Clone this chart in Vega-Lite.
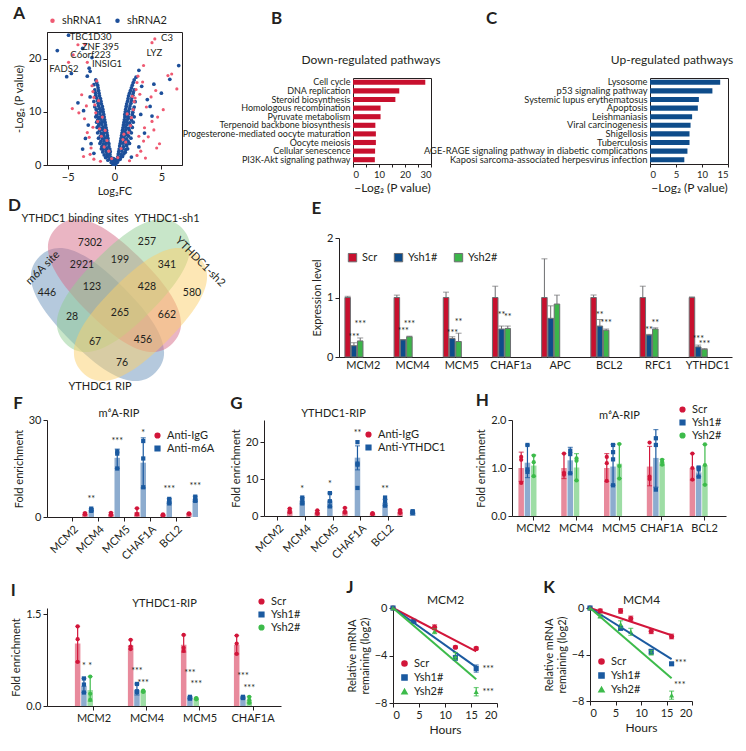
{
"$schema": "https://vega.github.io/schema/vega-lite/v6.json",
"background": "white",
"padding": {"left": 8, "top": 4, "right": 4, "bottom": 4},
"config": {
 "font": "Lato",
 "view": {"stroke": null},
 "axis": {"grid": false, "labelFontSize": 10, "titleFontSize": 11, "titleFontWeight": "normal", "labelColor": "#231f20", "titleColor": "#231f20", "domainColor": "#231f20", "tickColor": "#231f20", "tickSize": 4, "labelPadding": 2, "titlePadding": 4},
 "title": {"fontSize": 17, "fontWeight": "bold", "anchor": "start", "frame": "bounds", "color": "#231f20"},
 "legend": {"labelFontSize": 10.5, "labelColor": "#231f20", "symbolSize": 22, "rowPadding": 1, "padding": 0, "symbolOpacity": 1}
},
"datasets": {
 "volc2": [
{"x":-0.05,"y":0.2},{"x":0.06,"y":0.3},{"x":-0.15,"y":0.15},{"x":0.12,"y":0.1},
{"x":-0.22,"y":0.55},{"x":-0.35,"y":0.45},{"x":0.15,"y":0.6},{"x":0.3,"y":0.5},{"x":-0.05,"y":0.7},
{"x":-0.3,"y":1.0},{"x":-0.5,"y":1.1},{"x":-0.7,"y":0.9},{"x":0.2,"y":1.05},{"x":0.45,"y":0.95},{"x":0.6,"y":1.1},{"x":-0.1,"y":1.2},
{"x":-0.4,"y":1.5},{"x":-0.75,"y":1.6},{"x":-0.95,"y":1.4},{"x":0.35,"y":1.55},{"x":0.65,"y":1.45},{"x":0.85,"y":1.6},
{"x":-0.5,"y":2.0},{"x":-0.8,"y":2.1},{"x":-1.1,"y":1.9},{"x":0.4,"y":2.05},{"x":0.7,"y":1.95},{"x":1.0,"y":2.1},
{"x":-0.45,"y":2.5},{"x":-0.9,"y":2.55},{"x":-1.25,"y":2.45},{"x":0.45,"y":2.5},{"x":0.8,"y":2.6},{"x":1.15,"y":2.4},
{"x":-0.5,"y":3.0},{"x":-0.85,"y":3.1},{"x":-1.2,"y":2.95},{"x":-1.4,"y":3.05},{"x":0.5,"y":3.0},{"x":0.85,"y":3.1},{"x":1.2,"y":2.9},{"x":1.4,"y":3.05},
{"x":-0.6,"y":3.5},{"x":-1.0,"y":3.6},{"x":-1.35,"y":3.45},{"x":0.55,"y":3.55},{"x":0.95,"y":3.45},{"x":1.3,"y":3.6},
{"x":-0.6,"y":4.0},{"x":-0.9,"y":4.1},{"x":-1.2,"y":3.95},{"x":-1.55,"y":4.05},{"x":0.6,"y":4.0},{"x":0.9,"y":4.1},{"x":1.25,"y":3.9},{"x":1.6,"y":4.05},
{"x":-0.7,"y":4.5},{"x":-1.1,"y":4.55},{"x":-1.45,"y":4.45},{"x":0.65,"y":4.5},{"x":1.05,"y":4.6},{"x":1.45,"y":4.45},
{"x":-0.7,"y":5.0},{"x":-1.0,"y":5.1},{"x":-1.3,"y":4.95},{"x":-1.7,"y":5.05},{"x":0.7,"y":5.0},{"x":1.0,"y":5.1},{"x":1.3,"y":4.9},{"x":1.75,"y":5.05},
{"x":-0.75,"y":5.5},{"x":-1.15,"y":5.6},{"x":-1.5,"y":5.45},{"x":0.75,"y":5.5},{"x":1.15,"y":5.6},{"x":1.5,"y":5.45},
{"x":-0.8,"y":6.0},{"x":-1.1,"y":6.1},{"x":-1.4,"y":5.95},{"x":-1.8,"y":6.05},{"x":0.8,"y":6.0},{"x":1.1,"y":6.1},{"x":1.4,"y":5.9},{"x":1.8,"y":6.05},
{"x":-0.85,"y":6.5},{"x":-1.25,"y":6.6},{"x":-1.6,"y":6.45},{"x":0.85,"y":6.5},{"x":1.2,"y":6.6},{"x":1.6,"y":6.45},
{"x":-0.9,"y":7.0},{"x":-1.2,"y":7.1},{"x":-1.5,"y":6.95},{"x":-1.85,"y":7.05},{"x":0.9,"y":7.0},{"x":1.2,"y":7.1},{"x":1.5,"y":6.9},{"x":1.9,"y":7.05},
{"x":-0.95,"y":7.5},{"x":-1.35,"y":7.6},{"x":-1.7,"y":7.45},{"x":0.95,"y":7.5},{"x":1.3,"y":7.6},{"x":1.7,"y":7.45},
{"x":-1.0,"y":8.0},{"x":-1.3,"y":8.1},{"x":-1.6,"y":7.95},{"x":-1.9,"y":8.05},{"x":1.0,"y":8.0},{"x":1.3,"y":8.1},{"x":1.6,"y":7.9},{"x":2.0,"y":8.05},
{"x":-1.05,"y":8.5},{"x":-1.45,"y":8.6},{"x":-1.8,"y":8.45},{"x":1.05,"y":8.5},{"x":1.4,"y":8.6},{"x":1.8,"y":8.45},
{"x":-1.1,"y":9.0},{"x":-1.4,"y":9.1},{"x":-1.7,"y":8.95},{"x":-2.0,"y":9.05},{"x":1.1,"y":9.0},{"x":1.4,"y":9.1},{"x":1.7,"y":8.9},{"x":2.1,"y":9.05},
{"x":-1.15,"y":9.5},{"x":-1.55,"y":9.6},{"x":-1.9,"y":9.45},{"x":1.1,"y":9.5},{"x":1.5,"y":9.6},{"x":1.9,"y":9.45},
{"x":-1.2,"y":10.0},{"x":-1.5,"y":10.1},{"x":-1.85,"y":9.95},{"x":1.15,"y":10.0},{"x":1.5,"y":10.1},{"x":1.95,"y":9.9},
{"x":-1.25,"y":10.5},{"x":-1.6,"y":10.6},{"x":-1.95,"y":10.45},{"x":1.2,"y":10.5},{"x":1.6,"y":10.6},{"x":2.0,"y":10.45},
{"x":-1.3,"y":11.0},{"x":-1.7,"y":11.1},{"x":-2.1,"y":10.95},{"x":1.25,"y":11.0},{"x":1.65,"y":11.1},{"x":2.1,"y":10.9},
{"x":-1.4,"y":11.5},{"x":-1.75,"y":11.6},{"x":1.3,"y":11.5},{"x":1.75,"y":11.6},
{"x":-1.45,"y":12.0},{"x":-1.8,"y":12.1},{"x":-2.2,"y":11.95},{"x":1.4,"y":12.0},{"x":1.8,"y":12.1},{"x":2.2,"y":11.9},
{"x":-1.5,"y":12.5},{"x":-1.9,"y":12.6},{"x":1.45,"y":12.5},{"x":1.85,"y":12.6},
{"x":-1.6,"y":13.0},{"x":-2.0,"y":13.1},{"x":1.5,"y":13.0},{"x":1.95,"y":13.1},
{"x":-1.65,"y":13.5},{"x":-2.05,"y":13.6},{"x":1.6,"y":13.5},{"x":2.0,"y":13.6},
{"x":-1.7,"y":14.0},{"x":-2.1,"y":14.1},{"x":1.7,"y":14.0},{"x":2.1,"y":14.1},
{"x":-1.75,"y":14.5},{"x":1.8,"y":14.5},{"x":-1.8,"y":15.0},{"x":-2.2,"y":15.1},{"x":1.9,"y":15.0},
{"x":-1.9,"y":15.5},{"x":2.0,"y":15.5},{"x":-2.0,"y":16.0},{"x":2.1,"y":16.0},
{"x":-3.1,"y":5.0},{"x":-2.8,"y":7.5},{"x":-3.3,"y":10.2},{"x":-2.6,"y":12.8},{"x":-3.9,"y":11.7},{"x":-3.4,"y":3.0},{"x":-2.5,"y":4.0},{"x":2.8,"y":9.5},{"x":3.5,"y":12.3},{"x":2.9,"y":14.8},{"x":3.8,"y":11.0},{"x":4.2,"y":15.2},{"x":2.3,"y":16.5},{"x":-2.9,"y":16.7},{"x":-2.6,"y":17.6},{"x":-4.6,"y":17.2},{"x":2.6,"y":17.8},{"x":5.0,"y":13.5},{"x":3.2,"y":6.0},{"x":4.0,"y":9.2},{"x":2.6,"y":3.4},{"x":-2.2,"y":2.2},{"x":1.8,"y":1.5},
{"x":-4.9,"y":24.4},{"x":-6.1,"y":21.5},{"x":-3.4,"y":21.9},{"x":-2.4,"y":20.2},{"x":-2.7,"y":18.2},{"x":6.85,"y":18.7},{"x":5.9,"y":16.1},{"x":-5.1,"y":16.6}
 ],
 "volc1": [
{"x":-0.3,"y":1.2},{"x":0.35,"y":1.4},{"x":-0.6,"y":2.6},{"x":0.7,"y":3.1},{"x":-1.1,"y":3.4},{"x":1.2,"y":4.3},{"x":-1.4,"y":5.4},{"x":1.5,"y":6.1},{"x":-1.6,"y":6.8},{"x":1.7,"y":7.4},{"x":-1.8,"y":8.2},{"x":1.8,"y":8.9},{"x":-2.0,"y":9.8},{"x":2.0,"y":10.4},{"x":-2.1,"y":11.3},{"x":2.1,"y":11.9},{"x":-2.2,"y":12.7},{"x":2.2,"y":12.6},{"x":-2.3,"y":13.8},{"x":2.3,"y":14.2},{"x":-2.4,"y":14.9},{"x":2.4,"y":15.5},{"x":-1.0,"y":6.5},{"x":1.0,"y":5.8},{"x":-1.3,"y":9.0},{"x":1.35,"y":9.6},{"x":-0.8,"y":4.6},{"x":0.9,"y":4.8},{"x":-1.9,"y":15.8},{"x":2.5,"y":16.7},
{"x":-2.5,"y":3.2},{"x":-2.9,"y":6.1},{"x":-3.2,"y":8.7},{"x":-3.0,"y":11.1},{"x":-3.5,"y":13.2},{"x":-2.7,"y":5.2},{"x":-3.8,"y":9.8},{"x":-4.5,"y":10.6},{"x":-2.6,"y":2.0},{"x":-3.3,"y":1.6},{"x":-2.2,"y":1.1},{"x":2.4,"y":1.8},{"x":2.8,"y":2.6},{"x":3.1,"y":4.5},{"x":3.6,"y":5.3},{"x":4.5,"y":3.2},{"x":4.8,"y":4.0},{"x":3.2,"y":7.0},{"x":4.0,"y":8.2},{"x":4.6,"y":9.0},{"x":5.2,"y":10.4},{"x":3.4,"y":10.9},{"x":3.9,"y":12.8},{"x":4.4,"y":14.0},{"x":5.7,"y":16.8},{"x":6.1,"y":17.1},{"x":6.65,"y":14.3},{"x":2.7,"y":13.3},{"x":3.0,"y":15.6},{"x":1.6,"y":0.8},{"x":-1.5,"y":0.7},{"x":3.3,"y":1.3},{"x":4.2,"y":6.6},{"x":2.6,"y":5.4},{"x":-2.3,"y":7.1},{"x":-1.7,"y":12.1},{"x":1.9,"y":12.9},
{"x":-3.15,"y":22.7},{"x":-4.4,"y":20.7},{"x":-4.9,"y":19.3},{"x":-2.9,"y":19.3},{"x":4.0,"y":23.0},{"x":4.3,"y":23.7},{"x":3.1,"y":18.7},{"x":-3.9,"y":22.6}
 ],
 "volcLab": [{"t":"TBC1D30","x":-2.55,"y":24.0},{"t":"ZNF 395","x":-1.5,"y":22.2},{"t":"C6orf223","x":-2.55,"y":20.6},{"t":"INSIG1","x":-0.8,"y":19.0},{"t":"FADS2","x":-5.4,"y":18.0},{"t":"C3","x":5.6,"y":23.8},{"t":"LYZ","x":4.25,"y":21.0}],
 "down": [{"p":"Cell cycle","v":27.8},{"p":"DNA replication","v":17.8},{"p":"Steroid biosynthesis","v":16.3},{"p":"Homologous recombination","v":10.6},{"p":"Pyruvate metabolism","v":10.6},{"p":"Terpenoid backbone biosynthesis","v":8.6},{"p":"Progesterone-mediated oocyte maturation","v":8.8},{"p":"Oocyte meiosis","v":8.8},{"p":"Cellular senescence","v":8.5},{"p":"PI3K-Akt signaling  pathway","v":8.4}],
 "up": [{"p":"Lysosome","v":13.5},{"p":"p53 signaling pathway","v":12.0},{"p":"Systemic lupus erythematosus","v":9.4},{"p":"Apoptosis","v":9.2},{"p":"Leishmaniasis","v":8.1},{"p":"Viral carcinogenesis","v":7.8},{"p":"Shigellosis","v":7.6},{"p":"Tuberculosis","v":7.6},{"p":"AGE-RAGE signaling pathway in diabetic complications","v":7.2},{"p":"Kaposi sarcoma-associated herpesvirus infection","v":6.6}],
 "vennSets": [{"set":"m6A site","x":97.5,"y":314.5,"tilt":"L"},{"set":"YTHDC1 binding sites","x":114.5,"y":285.5,"tilt":"L"},{"set":"YTHDC1-sh1","x":123.5,"y":285.5,"tilt":"R"},{"set":"YTHDC1-sh2","x":140.5,"y":314.5,"tilt":"R"}],
 "vennNums": [{"n":"7302","x":90,"y":243},{"n":"257","x":147,"y":242},{"n":"2921","x":82,"y":265},{"n":"199","x":120,"y":260},{"n":"341","x":167,"y":265},{"n":"446","x":47,"y":293},{"n":"123","x":92,"y":287},{"n":"428","x":147,"y":287},{"n":"580","x":192,"y":293},{"n":"28","x":72,"y":317},{"n":"265","x":120,"y":313},{"n":"662","x":167,"y":315},{"n":"67","x":95,"y":342},{"n":"456","x":143,"y":340},{"n":"76","x":122,"y":363}],
 "vennLabels": [{"t":"YTHDC1 binding sites","x":75,"y":219},{"t":"YTHDC1-sh1","x":167,"y":219},{"t":"YTHDC1 RIP","x":100,"y":387},{"t":"m6A site","x":43,"y":268},{"t":"YTHDC1-sh2","x":200,"y":262}],
 "eBars": [
{"gene":"MCM2","grp":"Scr","v":1.0,"hi":1.02},{"gene":"MCM2","grp":"Ysh1#","v":0.19,"hi":0.24},{"gene":"MCM2","grp":"Ysh2#","v":0.27,"hi":0.32},
{"gene":"MCM4","grp":"Scr","v":1.0,"hi":1.04},{"gene":"MCM4","grp":"Ysh1#","v":0.29,"hi":0.29},{"gene":"MCM4","grp":"Ysh2#","v":0.34,"hi":0.35},
{"gene":"MCM5","grp":"Scr","v":1.0,"hi":1.09},{"gene":"MCM5","grp":"Ysh1#","v":0.31,"hi":0.34},{"gene":"MCM5","grp":"Ysh2#","v":0.26,"hi":0.4},
{"gene":"CHAF1a","grp":"Scr","v":1.0,"hi":1.19},{"gene":"CHAF1a","grp":"Ysh1#","v":0.47,"hi":0.52},{"gene":"CHAF1a","grp":"Ysh2#","v":0.48,"hi":0.52},
{"gene":"APC","grp":"Scr","v":1.0,"hi":1.65},{"gene":"APC","grp":"Ysh1#","v":0.65,"hi":0.86},{"gene":"APC","grp":"Ysh2#","v":0.89,"hi":1.04},
{"gene":"BCL2","grp":"Scr","v":1.0,"hi":1.04},{"gene":"BCL2","grp":"Ysh1#","v":0.52,"hi":0.63},{"gene":"BCL2","grp":"Ysh2#","v":0.45,"hi":0.47},
{"gene":"RFC1","grp":"Scr","v":1.0,"hi":1.19},{"gene":"RFC1","grp":"Ysh1#","v":0.37,"hi":0.38},{"gene":"RFC1","grp":"Ysh2#","v":0.47,"hi":0.49},
{"gene":"YTHDC1","grp":"Scr","v":1.0,"hi":1.01},{"gene":"YTHDC1","grp":"Ysh1#","v":0.17,"hi":0.2},{"gene":"YTHDC1","grp":"Ysh2#","v":0.13,"hi":0.14}],
 "eSig": [{"gene":"MCM2","grp":"Ysh1#","y":0.33,"s":"***"},{"gene":"MCM2","grp":"Ysh2#","y":0.55,"s":"***"},{"gene":"MCM4","grp":"Ysh1#","y":0.43,"s":"***"},{"gene":"MCM4","grp":"Ysh2#","y":0.55,"s":"***"},{"gene":"MCM5","grp":"Ysh1#","y":0.41,"s":"***"},{"gene":"MCM5","grp":"Ysh2#","y":0.58,"s":"**"},{"gene":"CHAF1a","grp":"Ysh1#","y":0.7,"s":"**"},{"gene":"CHAF1a","grp":"Ysh2#","y":0.68,"s":"**"},{"gene":"BCL2","grp":"Ysh1#","y":0.71,"s":"**"},{"gene":"BCL2","grp":"Ysh2#","y":0.57,"s":"***"},{"gene":"RFC1","grp":"Ysh1#","y":0.46,"s":"**"},{"gene":"RFC1","grp":"Ysh2#","y":0.57,"s":"**"},{"gene":"YTHDC1","grp":"Ysh1#","y":0.3,"s":"***"},{"gene":"YTHDC1","grp":"Ysh2#","y":0.22,"s":"***"}],
 "fBars": [{"gene":"MCM2","ab":"Anti-IgG","m":0.97,"lo":0.7,"hi":1.25},{"gene":"MCM2","ab":"Anti-m6A","m":2.25,"lo":1.9,"hi":2.6},{"gene":"MCM4","ab":"Anti-IgG","m":0.9,"lo":0.55,"hi":1.3},{"gene":"MCM4","ab":"Anti-m6A","m":18.3,"lo":15.0,"hi":21.0},{"gene":"MCM5","ab":"Anti-IgG","m":1.5,"lo":0.5,"hi":2.7},{"gene":"MCM5","ab":"Anti-m6A","m":16.8,"lo":9.0,"hi":24.5},{"gene":"CHAF1A","ab":"Anti-IgG","m":0.63,"lo":0.5,"hi":0.8},{"gene":"CHAF1A","ab":"Anti-m6A","m":4.9,"lo":4.2,"hi":5.7},{"gene":"BCL2","ab":"Anti-IgG","m":1.0,"lo":0.85,"hi":1.15},{"gene":"BCL2","ab":"Anti-m6A","m":5.6,"lo":4.8,"hi":6.4}],
 "fPts": [{"gene":"MCM2","ab":"Anti-IgG","v":1.2},{"gene":"MCM2","ab":"Anti-IgG","v":0.9},{"gene":"MCM2","ab":"Anti-IgG","v":0.8},{"gene":"MCM2","ab":"Anti-m6A","v":2.6},{"gene":"MCM2","ab":"Anti-m6A","v":2.2},{"gene":"MCM2","ab":"Anti-m6A","v":1.9},
{"gene":"MCM4","ab":"Anti-IgG","v":1.3},{"gene":"MCM4","ab":"Anti-IgG","v":0.8},{"gene":"MCM4","ab":"Anti-IgG","v":0.6},{"gene":"MCM4","ab":"Anti-m6A","v":20.3},{"gene":"MCM4","ab":"Anti-m6A","v":19.6},{"gene":"MCM4","ab":"Anti-m6A","v":15.0},
{"gene":"MCM5","ab":"Anti-IgG","v":2.7},{"gene":"MCM5","ab":"Anti-IgG","v":1.0},{"gene":"MCM5","ab":"Anti-IgG","v":0.8},{"gene":"MCM5","ab":"Anti-m6A","v":23.5},{"gene":"MCM5","ab":"Anti-m6A","v":18.1},{"gene":"MCM5","ab":"Anti-m6A","v":9.2},
{"gene":"CHAF1A","ab":"Anti-IgG","v":0.8},{"gene":"CHAF1A","ab":"Anti-IgG","v":0.6},{"gene":"CHAF1A","ab":"Anti-IgG","v":0.5},{"gene":"CHAF1A","ab":"Anti-m6A","v":5.6},{"gene":"CHAF1A","ab":"Anti-m6A","v":5.0},{"gene":"CHAF1A","ab":"Anti-m6A","v":4.2},
{"gene":"BCL2","ab":"Anti-IgG","v":1.1},{"gene":"BCL2","ab":"Anti-IgG","v":1.0},{"gene":"BCL2","ab":"Anti-IgG","v":0.9},{"gene":"BCL2","ab":"Anti-m6A","v":6.3},{"gene":"BCL2","ab":"Anti-m6A","v":5.4},{"gene":"BCL2","ab":"Anti-m6A","v":5.0}],
 "fSig": [{"gene":"MCM2","ab":"Anti-m6A","y":5.5,"s":"**"},{"gene":"MCM4","ab":"Anti-m6A","y":23.4,"s":"***"},{"gene":"MCM5","ab":"Anti-m6A","y":26.0,"s":"*"},{"gene":"CHAF1A","ab":"Anti-m6A","y":8.7,"s":"***"},{"gene":"BCL2","ab":"Anti-m6A","y":9.6,"s":"***"}],
 "gBars": [{"gene":"MCM2","ab":"Anti-IgG","m":1.4,"lo":0.8,"hi":2.0},{"gene":"MCM2","ab":"Anti-YTHDC1","m":4.2,"lo":3.3,"hi":5.0},{"gene":"MCM4","ab":"Anti-IgG","m":1.0,"lo":0.6,"hi":1.5},{"gene":"MCM4","ab":"Anti-YTHDC1","m":4.2,"lo":2.5,"hi":6.2},{"gene":"MCM5","ab":"Anti-IgG","m":1.4,"lo":0.8,"hi":2.2},{"gene":"MCM5","ab":"Anti-YTHDC1","m":15.8,"lo":12.5,"hi":19.0},{"gene":"CHAF1A","ab":"Anti-IgG","m":0.65,"lo":0.5,"hi":0.8},{"gene":"CHAF1A","ab":"Anti-YTHDC1","m":3.6,"lo":2.8,"hi":4.5},{"gene":"BCL2","ab":"Anti-IgG","m":1.2,"lo":0.8,"hi":1.6},{"gene":"BCL2","ab":"Anti-YTHDC1","m":1.05,"lo":0.7,"hi":1.3}],
 "gPts": [{"gene":"MCM2","ab":"Anti-IgG","v":2.0},{"gene":"MCM2","ab":"Anti-IgG","v":1.5},{"gene":"MCM2","ab":"Anti-IgG","v":1.0},{"gene":"MCM2","ab":"Anti-YTHDC1","v":5.0},{"gene":"MCM2","ab":"Anti-YTHDC1","v":4.2},{"gene":"MCM2","ab":"Anti-YTHDC1","v":3.4},
{"gene":"MCM4","ab":"Anti-IgG","v":1.5},{"gene":"MCM4","ab":"Anti-IgG","v":1.0},{"gene":"MCM4","ab":"Anti-IgG","v":0.6},{"gene":"MCM4","ab":"Anti-YTHDC1","v":6.2},{"gene":"MCM4","ab":"Anti-YTHDC1","v":4.0},{"gene":"MCM4","ab":"Anti-YTHDC1","v":2.6},
{"gene":"MCM5","ab":"Anti-IgG","v":2.2},{"gene":"MCM5","ab":"Anti-IgG","v":1.2},{"gene":"MCM5","ab":"Anti-IgG","v":0.9},{"gene":"MCM5","ab":"Anti-YTHDC1","v":20.0},{"gene":"MCM5","ab":"Anti-YTHDC1","v":14.2},{"gene":"MCM5","ab":"Anti-YTHDC1","v":13.9},{"gene":"MCM5","ab":"Anti-YTHDC1","v":7.6},
{"gene":"CHAF1A","ab":"Anti-IgG","v":0.8},{"gene":"CHAF1A","ab":"Anti-IgG","v":0.6},{"gene":"CHAF1A","ab":"Anti-IgG","v":0.5},{"gene":"CHAF1A","ab":"Anti-YTHDC1","v":5.0},{"gene":"CHAF1A","ab":"Anti-YTHDC1","v":3.9},{"gene":"CHAF1A","ab":"Anti-YTHDC1","v":2.8},
{"gene":"BCL2","ab":"Anti-IgG","v":1.6},{"gene":"BCL2","ab":"Anti-IgG","v":1.2},{"gene":"BCL2","ab":"Anti-IgG","v":0.8},{"gene":"BCL2","ab":"Anti-YTHDC1","v":1.3},{"gene":"BCL2","ab":"Anti-YTHDC1","v":1.1},{"gene":"BCL2","ab":"Anti-YTHDC1","v":0.8}],
 "gSig": [{"gene":"MCM2","ab":"Anti-YTHDC1","y":7.3,"s":"*"},{"gene":"MCM4","ab":"Anti-YTHDC1","y":8.6,"s":"*"},{"gene":"MCM5","ab":"Anti-YTHDC1","y":22.5,"s":"**"},{"gene":"CHAF1A","ab":"Anti-YTHDC1","y":7.3,"s":"**"}],
 "hBars": [{"gene":"MCM2","grp":"Scr","m":1.0,"lo":0.72,"hi":1.33},{"gene":"MCM2","grp":"Ysh1#","m":1.11,"lo":0.8,"hi":1.48},{"gene":"MCM2","grp":"Ysh2#","m":1.05,"lo":0.83,"hi":1.27},{"gene":"MCM4","grp":"Scr","m":1.0,"lo":0.78,"hi":1.3},{"gene":"MCM4","grp":"Ysh1#","m":1.16,"lo":0.89,"hi":1.43},{"gene":"MCM4","grp":"Ysh2#","m":1.01,"lo":0.74,"hi":1.3},{"gene":"MCM5","grp":"Scr","m":1.0,"lo":0.72,"hi":1.3},{"gene":"MCM5","grp":"Ysh1#","m":1.03,"lo":0.64,"hi":1.49},{"gene":"MCM5","grp":"Ysh2#","m":1.09,"lo":0.78,"hi":1.5},{"gene":"CHAF1A","grp":"Scr","m":1.03,"lo":0.63,"hi":1.45},{"gene":"CHAF1A","grp":"Ysh1#","m":1.21,"lo":0.6,"hi":1.8},{"gene":"CHAF1A","grp":"Ysh2#","m":1.12,"lo":1.06,"hi":1.18},{"gene":"BCL2","grp":"Scr","m":1.0,"lo":0.75,"hi":1.3},{"gene":"BCL2","grp":"Ysh1#","m":0.91,"lo":0.82,"hi":1.02},{"gene":"BCL2","grp":"Ysh2#","m":1.06,"lo":0.65,"hi":1.49}],
 "hPts": [{"gene":"MCM2","grp":"Scr","v":1.23},{"gene":"MCM2","grp":"Scr","v":1.17},{"gene":"MCM2","grp":"Scr","v":0.69},{"gene":"MCM2","grp":"Ysh1#","v":1.48},{"gene":"MCM2","grp":"Ysh1#","v":0.97},{"gene":"MCM2","grp":"Ysh1#","v":0.92},{"gene":"MCM2","grp":"Ysh2#","v":1.26},{"gene":"MCM2","grp":"Ysh2#","v":1.12},{"gene":"MCM2","grp":"Ysh2#","v":0.83},
{"gene":"MCM4","grp":"Scr","v":1.3},{"gene":"MCM4","grp":"Scr","v":0.9},{"gene":"MCM4","grp":"Scr","v":0.86},{"gene":"MCM4","grp":"Ysh1#","v":1.36},{"gene":"MCM4","grp":"Ysh1#","v":1.29},{"gene":"MCM4","grp":"Ysh1#","v":0.89},{"gene":"MCM4","grp":"Ysh2#","v":1.2},{"gene":"MCM4","grp":"Ysh2#","v":1.15},{"gene":"MCM4","grp":"Ysh2#","v":0.74},
{"gene":"MCM5","grp":"Scr","v":1.23},{"gene":"MCM5","grp":"Scr","v":1.1},{"gene":"MCM5","grp":"Scr","v":0.73},{"gene":"MCM5","grp":"Ysh1#","v":1.48},{"gene":"MCM5","grp":"Ysh1#","v":1.33},{"gene":"MCM5","grp":"Ysh1#","v":1.18},{"gene":"MCM5","grp":"Ysh1#","v":0.64},{"gene":"MCM5","grp":"Ysh2#","v":1.5},{"gene":"MCM5","grp":"Ysh2#","v":1.04},{"gene":"MCM5","grp":"Ysh2#","v":0.78},
{"gene":"CHAF1A","grp":"Scr","v":1.53},{"gene":"CHAF1A","grp":"Scr","v":0.82},{"gene":"CHAF1A","grp":"Scr","v":0.77},{"gene":"CHAF1A","grp":"Ysh1#","v":1.62},{"gene":"CHAF1A","grp":"Ysh1#","v":1.48},{"gene":"CHAF1A","grp":"Ysh1#","v":0.55},{"gene":"CHAF1A","grp":"Ysh2#","v":1.17},{"gene":"CHAF1A","grp":"Ysh2#","v":1.13},{"gene":"CHAF1A","grp":"Ysh2#","v":1.07},
{"gene":"BCL2","grp":"Scr","v":1.3},{"gene":"BCL2","grp":"Scr","v":1.0},{"gene":"BCL2","grp":"Scr","v":0.76},{"gene":"BCL2","grp":"Ysh1#","v":1.01},{"gene":"BCL2","grp":"Ysh1#","v":0.97},{"gene":"BCL2","grp":"Ysh1#","v":0.82},{"gene":"BCL2","grp":"Ysh2#","v":1.49},{"gene":"BCL2","grp":"Ysh2#","v":1.06},{"gene":"BCL2","grp":"Ysh2#","v":0.65}],
 "iBars": [{"gene":"MCM2","grp":"Scr","m":1.02,"lo":0.72,"hi":1.3},{"gene":"MCM2","grp":"Ysh1#","m":0.33,"lo":0.22,"hi":0.45},{"gene":"MCM2","grp":"Ysh2#","m":0.26,"lo":0.08,"hi":0.48},{"gene":"MCM4","grp":"Scr","m":0.99,"lo":0.93,"hi":1.08},{"gene":"MCM4","grp":"Ysh1#","m":0.26,"lo":0.18,"hi":0.36},{"gene":"MCM4","grp":"Ysh2#","m":0.24,"lo":0.23,"hi":0.25},{"gene":"MCM5","grp":"Scr","m":1.0,"lo":0.88,"hi":1.16},{"gene":"MCM5","grp":"Ysh1#","m":0.14,"lo":0.12,"hi":0.15},{"gene":"MCM5","grp":"Ysh2#","m":0.12,"lo":0.11,"hi":0.13},{"gene":"CHAF1A","grp":"Scr","m":1.0,"lo":0.85,"hi":1.15},{"gene":"CHAF1A","grp":"Ysh1#","m":0.14,"lo":0.13,"hi":0.15},{"gene":"CHAF1A","grp":"Ysh2#","m":0.1,"lo":0.05,"hi":0.15}],
 "iPts": [{"gene":"MCM2","grp":"Scr","v":1.3},{"gene":"MCM2","grp":"Scr","v":1.09},{"gene":"MCM2","grp":"Scr","v":0.72},{"gene":"MCM2","grp":"Ysh1#","v":0.45},{"gene":"MCM2","grp":"Ysh1#","v":0.35},{"gene":"MCM2","grp":"Ysh1#","v":0.22},{"gene":"MCM2","grp":"Ysh2#","v":0.48},{"gene":"MCM2","grp":"Ysh2#","v":0.2},{"gene":"MCM2","grp":"Ysh2#","v":0.1},
{"gene":"MCM4","grp":"Scr","v":1.08},{"gene":"MCM4","grp":"Scr","v":0.97},{"gene":"MCM4","grp":"Scr","v":0.93},{"gene":"MCM4","grp":"Ysh1#","v":0.36},{"gene":"MCM4","grp":"Ysh1#","v":0.24},{"gene":"MCM4","grp":"Ysh1#","v":0.23},{"gene":"MCM4","grp":"Ysh2#","v":0.25},{"gene":"MCM4","grp":"Ysh2#","v":0.24},{"gene":"MCM4","grp":"Ysh2#","v":0.23},
{"gene":"MCM5","grp":"Scr","v":1.16},{"gene":"MCM5","grp":"Scr","v":0.95},{"gene":"MCM5","grp":"Scr","v":0.9},{"gene":"MCM5","grp":"Ysh1#","v":0.15},{"gene":"MCM5","grp":"Ysh1#","v":0.13},{"gene":"MCM5","grp":"Ysh1#","v":0.12},{"gene":"MCM5","grp":"Ysh2#","v":0.13},{"gene":"MCM5","grp":"Ysh2#","v":0.12},{"gene":"MCM5","grp":"Ysh2#","v":0.11},
{"gene":"CHAF1A","grp":"Scr","v":1.15},{"gene":"CHAF1A","grp":"Scr","v":1.02},{"gene":"CHAF1A","grp":"Scr","v":0.85},{"gene":"CHAF1A","grp":"Ysh1#","v":0.15},{"gene":"CHAF1A","grp":"Ysh1#","v":0.14},{"gene":"CHAF1A","grp":"Ysh1#","v":0.13},{"gene":"CHAF1A","grp":"Ysh2#","v":0.15},{"gene":"CHAF1A","grp":"Ysh2#","v":0.1},{"gene":"CHAF1A","grp":"Ysh2#","v":0.05}],
 "iSig": [{"gene":"MCM2","grp":"Ysh1#","y":0.66,"s":"*"},{"gene":"MCM2","grp":"Ysh2#","y":0.66,"s":"*"},{"gene":"MCM4","grp":"Ysh1#","y":0.57,"s":"***"},{"gene":"MCM4","grp":"Ysh2#","y":0.37,"s":"***"},{"gene":"MCM5","grp":"Ysh1#","y":0.54,"s":"***"},{"gene":"MCM5","grp":"Ysh2#","y":0.36,"s":"***"},{"gene":"CHAF1A","grp":"Ysh1#","y":0.49,"s":"***"},{"gene":"CHAF1A","grp":"Ysh2#","y":0.3,"s":"***"}],
 "jFit": [{"grp":"Scr","h":0,"v":0},{"grp":"Scr","h":16,"v":-3.65},{"grp":"Ysh1#","h":0,"v":0},{"grp":"Ysh1#","h":16,"v":-4.98},{"grp":"Ysh2#","h":0,"v":0},{"grp":"Ysh2#","h":16,"v":-6.0}],
 "jPts": [{"grp":"Scr","h":0,"v":0,"lo":0,"hi":0},{"grp":"Scr","h":8,"v":-1.62,"lo":-1.82,"hi":-1.42},{"grp":"Scr","h":12,"v":-3.3,"lo":-3.4,"hi":-3.2},{"grp":"Scr","h":16,"v":-3.4,"lo":-3.5,"hi":-3.3},
{"grp":"Ysh1#","h":0,"v":0,"lo":0,"hi":0},{"grp":"Ysh1#","h":4,"v":-1.12,"lo":-1.22,"hi":-1.02},{"grp":"Ysh1#","h":12,"v":-4.2,"lo":-4.4,"hi":-4.0},{"grp":"Ysh1#","h":16,"v":-5.1,"lo":-5.4,"hi":-4.8},
{"grp":"Ysh2#","h":0,"v":0,"lo":0,"hi":0},{"grp":"Ysh2#","h":8,"v":-1.96,"lo":-2.16,"hi":-1.76},{"grp":"Ysh2#","h":12,"v":-4.05,"lo":-4.35,"hi":-3.75},{"grp":"Ysh2#","h":16,"v":-7.05,"lo":-7.4,"hi":-6.7}],
 "jSig": [{"h":18.3,"v":-5.15,"s":"***"},{"h":18.3,"v":-7.05,"s":"***"}],
 "kFit": [{"grp":"Scr","h":0,"v":0},{"grp":"Scr","h":16,"v":-2.35},{"grp":"Ysh1#","h":0,"v":0},{"grp":"Ysh1#","h":16,"v":-4.4},{"grp":"Ysh2#","h":0,"v":0},{"grp":"Ysh2#","h":16,"v":-6.05}],
 "kPts": [{"grp":"Scr","h":0,"v":0,"lo":0,"hi":0},{"grp":"Scr","h":2,"v":-0.25,"lo":-0.4,"hi":-0.1},{"grp":"Scr","h":6,"v":-0.25,"lo":-0.45,"hi":-0.05},{"grp":"Scr","h":8,"v":-0.9,"lo":-1.1,"hi":-0.7},{"grp":"Scr","h":12,"v":-2.0,"lo":-2.2,"hi":-1.8},{"grp":"Scr","h":16,"v":-2.45,"lo":-2.65,"hi":-2.25},
{"grp":"Ysh1#","h":0,"v":0,"lo":0,"hi":0},{"grp":"Ysh1#","h":6,"v":-1.75,"lo":-1.85,"hi":-1.65},{"grp":"Ysh1#","h":12,"v":-3.75,"lo":-3.95,"hi":-3.55},{"grp":"Ysh1#","h":16,"v":-4.8,"lo":-4.9,"hi":-4.7},
{"grp":"Ysh2#","h":0,"v":0,"lo":0,"hi":0},{"grp":"Ysh2#","h":2,"v":-0.7,"lo":-0.85,"hi":-0.55},{"grp":"Ysh2#","h":6,"v":-1.4,"lo":-1.7,"hi":-1.1},{"grp":"Ysh2#","h":8,"v":-2.05,"lo":-2.35,"hi":-1.75},{"grp":"Ysh2#","h":12,"v":-3.85,"lo":-4.05,"hi":-3.65},{"grp":"Ysh2#","h":16,"v":-7.5,"lo":-7.85,"hi":-7.15}],
 "kSig": [{"h":17.8,"v":-4.75,"s":"***"},{"h":17.6,"v":-6.6,"s":"***"}]
},
"spacing": 0,
"align": "none",
"resolve": {"scale": {"color": "independent", "fill": "independent", "shape": "independent"}},
"vconcat": [
 {"hconcat": [
  {"width": 135, "height": 133,
   "title": {"text": "A", "offset": -8},
   "view": {"stroke": "#231f20", "strokeWidth": 1},
   "layer": [
    {"data": {"name": "volc2"}, "mark": {"type": "circle", "size": 14, "opacity": 1},
     "encoding": {
      "x": {"field": "x", "type": "quantitative", "scale": {"domain": [-7.2, 7.2], "nice": false}, "axis": {"values": [-5, 0, 5], "title": "Log₂FC", "labelFontSize": 11, "titleFontSize": 11, "titlePadding": 3}},
      "y": {"field": "y", "type": "quantitative", "scale": {"domain": [0, 25], "nice": false}, "axis": {"values": [0, 5, 10, 15, 20, 25], "title": "-Log₂ (P value)", "labelFontSize": 11, "titleFontSize": 11}},
      "color": {"datum": "shRNA2", "type": "nominal", "scale": {"domain": ["shRNA1", "shRNA2"], "range": ["#ef5a72", "#1d4f9a"]}, "legend": {"orient": "top", "direction": "horizontal", "title": null, "labelFontSize": 11, "symbolSize": 20, "columnPadding": 10, "offset": 6}}
     }},
    {"data": {"name": "volc1"}, "mark": {"type": "circle", "size": 10, "opacity": 1},
     "encoding": {"x": {"field": "x", "type": "quantitative"}, "y": {"field": "y", "type": "quantitative"}, "color": {"datum": "shRNA1", "type": "nominal"}}},
    {"data": {"name": "volcLab"}, "mark": {"type": "text", "fontSize": 9.5, "color": "#231f20"},
     "encoding": {"x": {"field": "x", "type": "quantitative"}, "y": {"field": "y", "type": "quantitative"}, "text": {"field": "t"}}}
   ]},
  {"hconcat": [
   {"vconcat": [
    {"width": 78, "height": 45,
     "title": {"text": "B", "frame": "group", "dx": -82, "offset": 4},
     "data": {"values": [{"t": "Down-regulated pathways"}]},
     "mark": {"type": "text", "baseline": "top", "fontSize": 12, "color": "#231f20", "dx": -21},
     "encoding": {"text": {"field": "t"}}},
    {"width": 78, "height": 86,
     "view": {"stroke": "#231f20", "strokeWidth": 1},
     "data": {"name": "down"},
     "mark": {"type": "bar", "color": "#c8102e", "height": {"band": 0.66}},
     "encoding": {
      "y": {"field": "p", "type": "nominal", "sort": null, "axis": {"title": null, "ticks": false, "domain": false, "labelFontSize": 9, "labelPadding": 3, "labelLimit": 0}},
      "x": {"field": "v", "type": "quantitative", "scale": {"domain": [0, 30], "nice": false}, "axis": {"values": [0, 5, 10, 15, 20, 25, 30], "title": "−Log₂ (P value)", "labelFontSize": 9.5, "titleFontSize": 12, "tickSize": 3}}
     }}
   ], "spacing": 0, "align": "none", "resolve": {"scale": {"color": "independent", "fill": "independent", "shape": "independent"}}},
   {"vconcat": [
    {"width": 78, "height": 45,
     "title": {"text": "C", "frame": "group", "dx": -164, "offset": 4},
     "data": {"values": [{"t": "Up-regulated pathways"}]},
     "mark": {"type": "text", "baseline": "top", "fontSize": 12, "color": "#231f20", "dx": -17},
     "encoding": {"text": {"field": "t"}}},
    {"width": 78, "height": 86,
     "view": {"stroke": "#231f20", "strokeWidth": 1},
     "data": {"name": "up"},
     "mark": {"type": "bar", "color": "#0e4c8a", "height": {"band": 0.66}},
     "encoding": {
      "y": {"field": "p", "type": "nominal", "sort": null, "axis": {"title": null, "ticks": false, "domain": false, "labelFontSize": 9.3, "labelPadding": 3, "labelLimit": 0}},
      "x": {"field": "v", "type": "quantitative", "scale": {"domain": [0, 15], "nice": false}, "axis": {"values": [0, 5, 10, 15], "title": "−Log₂ (P value)", "labelFontSize": 9.5, "titleFontSize": 12, "tickSize": 3}}
     }}
   ], "spacing": 0, "align": "none", "resolve": {"scale": {"color": "independent", "fill": "independent", "shape": "independent"}}}
  ], "spacing": -19, "align": "none", "resolve": {"scale": {"color": "independent", "fill": "independent", "shape": "independent"}}}
 ], "spacing": -2, "align": "none", "resolve": {"scale": {"color": "independent", "fill": "independent", "shape": "independent"}}},
 {"hconcat": [
  {"width": 200, "height": 154,
   "title": {"text": "D", "frame": "group", "dx": -39, "offset": -2},
   "layer": [
    {"data": {"name": "vennSets"}, "transform": [{"filter": "datum.tilt == 'L'"}],
     "mark": {"type": "point", "shape": "M 4 0 C 4 1.16 2.88 1.828 0 1.828 C -2.88 1.828 -4 1.16 -4 0 C -4 -1.16 -2.88 -1.828 0 -1.828 C 2.88 -1.828 4 -1.16 4 0 Z", "size": 1681, "angle": 45, "filled": true, "opacity": 0.5, "strokeWidth": 0},
     "encoding": {
      "x": {"field": "x", "type": "quantitative", "scale": {"domain": [47, 247], "nice": false, "zero": false}, "axis": null},
      "y": {"field": "y", "type": "quantitative", "scale": {"domain": [238, 392], "nice": false, "zero": false, "reverse": true}, "axis": null},
      "fill": {"field": "set", "type": "nominal", "scale": {"domain": ["m6A site", "YTHDC1 binding sites", "YTHDC1-sh1", "YTHDC1-sh2"], "range": ["#6b93bb", "#d56b87", "#91cd93", "#fbcf6b"]}, "legend": null}
     }},
    {"data": {"name": "vennSets"}, "transform": [{"filter": "datum.tilt == 'R'"}],
     "mark": {"type": "point", "shape": "M 4 0 C 4 1.16 2.88 1.828 0 1.828 C -2.88 1.828 -4 1.16 -4 0 C -4 -1.16 -2.88 -1.828 0 -1.828 C 2.88 -1.828 4 -1.16 4 0 Z", "size": 1681, "angle": -45, "filled": true, "opacity": 0.5, "strokeWidth": 0},
     "encoding": {
      "x": {"field": "x", "type": "quantitative", "axis": null},
      "y": {"field": "y", "type": "quantitative", "axis": null},
      "fill": {"field": "set", "type": "nominal", "legend": null}
     }},
    {"data": {"name": "vennNums"}, "mark": {"type": "text", "fontSize": 10.5, "color": "#231f20"},
     "encoding": {"x": {"field": "x", "type": "quantitative", "axis": null}, "y": {"field": "y", "type": "quantitative", "axis": null}, "text": {"field": "n"}}},
    {"data": {"name": "vennLabels"}, "transform": [{"filter": "datum.t != 'm6A site' && datum.t != 'YTHDC1-sh2'"}], "mark": {"type": "text", "fontSize": 11, "color": "#231f20"},
     "encoding": {"x": {"field": "x", "type": "quantitative", "axis": null}, "y": {"field": "y", "type": "quantitative", "axis": null}, "text": {"field": "t"}}},
    {"data": {"name": "vennLabels"}, "transform": [{"filter": "datum.t == 'm6A site'"}], "mark": {"type": "text", "fontSize": 11, "color": "#231f20", "angle": -45},
     "encoding": {"x": {"field": "x", "type": "quantitative", "axis": null}, "y": {"field": "y", "type": "quantitative", "axis": null}, "text": {"field": "t"}}},
    {"data": {"name": "vennLabels"}, "transform": [{"filter": "datum.t == 'YTHDC1-sh2'"}], "mark": {"type": "text", "fontSize": 11, "color": "#231f20", "angle": 45},
     "encoding": {"x": {"field": "x", "type": "quantitative", "axis": null}, "y": {"field": "y", "type": "quantitative", "axis": null}, "text": {"field": "t"}}}
   ]},
  {"width": 393, "height": 119,
   "title": {"text": "E", "offset": 14},
   "layer": [
    {"data": {"name": "eBars"}, "mark": {"type": "bar", "stroke": "#6d6e71", "strokeWidth": 1},
     "encoding": {
      "x": {"field": "gene", "type": "nominal", "sort": null, "scale": {"paddingInner": 0.25, "paddingOuter": 0.12}, "axis": {"title": null, "labelAngle": 0, "labelFontSize": 11, "ticks": false}},
      "xOffset": {"field": "grp", "type": "nominal", "sort": null, "scale": {"domain": ["Scr", "Ysh1#", "Ysh2#"], "paddingInner": 0.12}},
      "y": {"field": "v", "type": "quantitative", "scale": {"domain": [0, 2]}, "axis": {"values": [0, 0.5, 1, 1.5, 2], "format": "~g", "title": "Expression level", "labelFontSize": 11, "titleFontSize": 11}},
      "color": {"field": "grp", "type": "nominal", "scale": {"domain": ["Scr", "Ysh1#", "Ysh2#"], "range": ["#c8102e", "#0e4c8a", "#3cb54a"]}, "legend": {"orient": "none", "legendX": 8, "legendY": 14, "direction": "horizontal", "title": null, "symbolType": "square", "symbolSize": 70, "symbolStrokeColor": "#6d6e71", "symbolStrokeWidth": 1, "labelFontSize": 11, "columnPadding": 14}}
     }},
    {"data": {"name": "eBars"}, "mark": {"type": "rule", "color": "#6d6e71", "strokeWidth": 1},
     "encoding": {"x": {"field": "gene", "type": "nominal", "sort": null}, "xOffset": {"field": "grp", "type": "nominal", "sort": null}, "y": {"field": "v", "type": "quantitative"}, "y2": {"field": "hi"}}},
    {"data": {"name": "eBars"}, "mark": {"type": "tick", "color": "#6d6e71", "thickness": 1, "size": 6},
     "encoding": {"x": {"field": "gene", "type": "nominal", "sort": null}, "xOffset": {"field": "grp", "type": "nominal", "sort": null}, "y": {"field": "hi", "type": "quantitative"}}},
    {"data": {"name": "eSig"}, "mark": {"type": "text", "fontSize": 9, "color": "#231f20"},
     "encoding": {"x": {"field": "gene", "type": "nominal", "sort": null}, "xOffset": {"field": "grp", "type": "nominal", "sort": null}, "y": {"field": "y", "type": "quantitative"}, "text": {"field": "s"}}}
   ]}
 ], "spacing": 64, "align": "none", "resolve": {"scale": {"color": "independent", "fill": "independent", "shape": "independent"}}},
 {"vconcat": [
  {"hconcat": [
   {"width": 143, "height": 97,
    "title": {"text": "F", "offset": -6},
    "layer": [
     {"data": {"name": "fBars"}, "mark": {"type": "bar", "opacity": 0.5},
      "encoding": {
       "x": {"field": "gene", "type": "nominal", "sort": null, "scale": {"paddingInner": 0.3, "paddingOuter": 0.4, "align": 0.788}, "axis": {"title": null, "labelAngle": -45, "labelFontSize": 11}},
       "xOffset": {"field": "ab", "type": "nominal", "sort": null, "scale": {"domain": ["Anti-IgG", "Anti-m6A"], "paddingInner": 0.12}},
       "y": {"field": "m", "type": "quantitative", "scale": {"domain": [0, 30]}, "axis": {"values": [0, 10, 20, 30], "title": "Fold enrichment", "labelFontSize": 11, "titleFontSize": 11}},
       "color": {"field": "ab", "type": "nominal", "scale": {"domain": ["Anti-IgG", "Anti-m6A"], "range": ["#d2163a", "#1b5aa0"]}}
      }},
     {"data": {"name": "fPts"}, "mark": {"type": "point", "filled": true, "size": 18, "opacity": 1},
      "encoding": {"x": {"field": "gene", "type": "nominal", "sort": null, "axis": {"orient": "top", "title": "m⁶A-RIP", "labels": false, "ticks": false, "domain": false, "titleFontSize": 11, "titlePadding": 2}},
       "xOffset": {"field": "ab", "type": "nominal", "sort": null}, "y": {"field": "v", "type": "quantitative"},
       "color": {"field": "ab", "type": "nominal", "legend": {"orient": "none", "legendX": 105, "legendY": 10, "title": null, "labelFontSize": 11, "symbolSize": 22, "symbolOpacity": 1}},
       "shape": {"field": "ab", "type": "nominal", "scale": {"domain": ["Anti-IgG", "Anti-m6A"], "range": ["circle", "square"]}, "legend": {"orient": "none", "legendX": 105, "legendY": 10, "title": null, "labelFontSize": 11, "symbolSize": 22, "symbolOpacity": 1}}}},
     {"data": {"name": "fBars"}, "mark": {"type": "rule", "strokeWidth": 1.2},
      "encoding": {"x": {"field": "gene", "type": "nominal", "sort": null, "axis": null}, "xOffset": {"field": "ab", "type": "nominal", "sort": null}, "y": {"field": "lo", "type": "quantitative"}, "y2": {"field": "hi"}, "color": {"field": "ab", "type": "nominal"}}},
     {"data": {"name": "fBars"}, "mark": {"type": "tick", "thickness": 1.2, "size": 5},
      "encoding": {"x": {"field": "gene", "type": "nominal", "sort": null, "axis": null}, "xOffset": {"field": "ab", "type": "nominal", "sort": null}, "y": {"field": "hi", "type": "quantitative"}, "color": {"field": "ab", "type": "nominal"}}},
     {"data": {"name": "fBars"}, "mark": {"type": "tick", "thickness": 1.2, "size": 5},
      "encoding": {"x": {"field": "gene", "type": "nominal", "sort": null, "axis": null}, "xOffset": {"field": "ab", "type": "nominal", "sort": null}, "y": {"field": "lo", "type": "quantitative"}, "color": {"field": "ab", "type": "nominal"}}},
     {"data": {"name": "fSig"}, "mark": {"type": "text", "fontSize": 9, "color": "#231f20"},
      "encoding": {"x": {"field": "gene", "type": "nominal", "sort": null, "axis": null}, "xOffset": {"field": "ab", "type": "nominal", "sort": null}, "y": {"field": "y", "type": "quantitative"}, "text": {"field": "s"}}}
    ],
    "resolve": {"axis": {"x": "independent"}}},
   {"hconcat": [
   {"width": 138, "height": 96,
    "title": {"text": "G", "offset": -6},
    "layer": [
     {"data": {"name": "gBars"}, "mark": {"type": "bar", "opacity": 0.5},
      "encoding": {
       "x": {"field": "gene", "type": "nominal", "sort": null, "scale": {"paddingInner": 0.3, "paddingOuter": 0.15}, "axis": {"title": null, "labelAngle": -45, "labelFontSize": 11}},
       "xOffset": {"field": "ab", "type": "nominal", "sort": null, "scale": {"domain": ["Anti-IgG", "Anti-YTHDC1"], "paddingInner": 0.12}},
       "y": {"field": "m", "type": "quantitative", "scale": {"domain": [0, 25]}, "axis": {"values": [0, 5, 10, 15, 20, 25], "title": "Fold enrichment", "labelFontSize": 11, "titleFontSize": 11}},
       "color": {"field": "ab", "type": "nominal", "scale": {"domain": ["Anti-IgG", "Anti-YTHDC1"], "range": ["#d2163a", "#1b5aa0"]}}
      }},
     {"data": {"name": "gPts"}, "mark": {"type": "point", "filled": true, "size": 18, "opacity": 1},
      "encoding": {"x": {"field": "gene", "type": "nominal", "sort": null, "axis": {"orient": "top", "title": "YTHDC1-RIP", "labels": false, "ticks": false, "domain": false, "titleFontSize": 11, "titlePadding": 2}},
       "xOffset": {"field": "ab", "type": "nominal", "sort": null}, "y": {"field": "v", "type": "quantitative"},
       "color": {"field": "ab", "type": "nominal", "legend": {"orient": "none", "legendX": 99, "legendY": 9, "title": null, "labelFontSize": 11, "symbolSize": 22, "symbolOpacity": 1}},
       "shape": {"field": "ab", "type": "nominal", "scale": {"domain": ["Anti-IgG", "Anti-YTHDC1"], "range": ["circle", "square"]}, "legend": {"orient": "none", "legendX": 99, "legendY": 9, "title": null, "labelFontSize": 11, "symbolSize": 22, "symbolOpacity": 1}}}},
     {"data": {"name": "gBars"}, "mark": {"type": "rule", "strokeWidth": 1.2},
      "encoding": {"x": {"field": "gene", "type": "nominal", "sort": null, "axis": null}, "xOffset": {"field": "ab", "type": "nominal", "sort": null}, "y": {"field": "lo", "type": "quantitative"}, "y2": {"field": "hi"}, "color": {"field": "ab", "type": "nominal"}}},
     {"data": {"name": "gBars"}, "mark": {"type": "tick", "thickness": 1.2, "size": 5},
      "encoding": {"x": {"field": "gene", "type": "nominal", "sort": null, "axis": null}, "xOffset": {"field": "ab", "type": "nominal", "sort": null}, "y": {"field": "hi", "type": "quantitative"}, "color": {"field": "ab", "type": "nominal"}}},
     {"data": {"name": "gBars"}, "mark": {"type": "tick", "thickness": 1.2, "size": 5},
      "encoding": {"x": {"field": "gene", "type": "nominal", "sort": null, "axis": null}, "xOffset": {"field": "ab", "type": "nominal", "sort": null}, "y": {"field": "lo", "type": "quantitative"}, "color": {"field": "ab", "type": "nominal"}}},
     {"data": {"name": "gSig"}, "mark": {"type": "text", "fontSize": 9, "color": "#231f20"},
      "encoding": {"x": {"field": "gene", "type": "nominal", "sort": null, "axis": null}, "xOffset": {"field": "ab", "type": "nominal", "sort": null}, "y": {"field": "y", "type": "quantitative"}, "text": {"field": "s"}}}
    ],
    "resolve": {"axis": {"x": "independent"}}},
   {"width": 214, "height": 96,
    "title": {"text": "H", "offset": -6},
    "layer": [
     {"data": {"name": "hBars"}, "mark": {"type": "bar", "opacity": 0.5},
      "encoding": {
       "x": {"field": "gene", "type": "nominal", "sort": null, "scale": {"paddingInner": 0.3, "paddingOuter": 0.15}, "axis": {"title": null, "labelAngle": 0, "labelFontSize": 11}},
       "xOffset": {"field": "grp", "type": "nominal", "sort": null, "scale": {"domain": ["Scr", "Ysh1#", "Ysh2#"], "paddingInner": 0.3}},
       "y": {"field": "m", "type": "quantitative", "scale": {"domain": [0, 2]}, "axis": {"values": [0, 0.5, 1, 1.5, 2], "format": ".1f", "title": "Fold enrichment", "labelFontSize": 11, "titleFontSize": 11}},
       "color": {"field": "grp", "type": "nominal", "scale": {"domain": ["Scr", "Ysh1#", "Ysh2#"], "range": ["#d2163a", "#1b5aa0", "#3dbb4b"]}}
      }},
     {"data": {"name": "hPts"}, "mark": {"type": "point", "filled": true, "size": 18, "opacity": 1},
      "encoding": {"x": {"field": "gene", "type": "nominal", "sort": null, "axis": {"orient": "top", "title": "m⁶A-RIP", "labels": false, "ticks": false, "domain": false, "titleFontSize": 11, "titlePadding": 0}},
       "xOffset": {"field": "grp", "type": "nominal", "sort": null}, "y": {"field": "v", "type": "quantitative"},
       "color": {"field": "grp", "type": "nominal", "legend": {"orient": "none", "legendX": 165, "legendY": -16, "title": null, "labelFontSize": 11, "symbolSize": 22, "symbolOpacity": 1}},
       "shape": {"field": "grp", "type": "nominal", "scale": {"domain": ["Scr", "Ysh1#", "Ysh2#"], "range": ["circle", "square", "circle"]}, "legend": {"orient": "none", "legendX": 165, "legendY": -16, "title": null, "labelFontSize": 11, "symbolSize": 22, "symbolOpacity": 1}}}},
     {"data": {"name": "hBars"}, "mark": {"type": "rule", "strokeWidth": 1.2},
      "encoding": {"x": {"field": "gene", "type": "nominal", "sort": null, "axis": null}, "xOffset": {"field": "grp", "type": "nominal", "sort": null}, "y": {"field": "lo", "type": "quantitative"}, "y2": {"field": "hi"}, "color": {"field": "grp", "type": "nominal"}}},
     {"data": {"name": "hBars"}, "mark": {"type": "tick", "thickness": 1.2, "size": 5},
      "encoding": {"x": {"field": "gene", "type": "nominal", "sort": null, "axis": null}, "xOffset": {"field": "grp", "type": "nominal", "sort": null}, "y": {"field": "hi", "type": "quantitative"}, "color": {"field": "grp", "type": "nominal"}}},
     {"data": {"name": "hBars"}, "mark": {"type": "tick", "thickness": 1.2, "size": 5},
      "encoding": {"x": {"field": "gene", "type": "nominal", "sort": null, "axis": null}, "xOffset": {"field": "grp", "type": "nominal", "sort": null}, "y": {"field": "lo", "type": "quantitative"}, "color": {"field": "grp", "type": "nominal"}}}
    ],
    "resolve": {"axis": {"x": "independent"}}}
   ], "spacing": 29, "align": "none", "resolve": {"scale": {"color": "independent", "fill": "independent", "shape": "independent"}}}
  ], "spacing": 15, "align": "none", "resolve": {"scale": {"color": "independent", "fill": "independent", "shape": "independent"}}},
  {"hconcat": [
   {"width": 234, "height": 98,
    "title": {"text": "I", "offset": -4},
    "layer": [
     {"data": {"name": "iBars"}, "mark": {"type": "bar", "opacity": 0.5},
      "encoding": {
       "x": {"field": "gene", "type": "nominal", "sort": null, "scale": {"paddingInner": 0.28, "paddingOuter": 0.347, "align": 0.758}, "axis": {"title": null, "labelAngle": 0, "labelFontSize": 11}},
       "xOffset": {"field": "grp", "type": "nominal", "sort": null, "scale": {"domain": ["Scr", "Ysh1#", "Ysh2#"], "paddingInner": 0.45}},
       "y": {"field": "m", "type": "quantitative", "scale": {"domain": [0, 1.5]}, "axis": {"values": [0, 0.5, 1, 1.5], "format": ".1f", "title": "Fold enrichment", "labelFontSize": 11, "titleFontSize": 11}},
       "color": {"field": "grp", "type": "nominal", "scale": {"domain": ["Scr", "Ysh1#", "Ysh2#"], "range": ["#d2163a", "#1b5aa0", "#3dbb4b"]}}
      }},
     {"data": {"name": "iPts"}, "mark": {"type": "point", "filled": true, "size": 18, "opacity": 1},
      "encoding": {"x": {"field": "gene", "type": "nominal", "sort": null, "axis": {"orient": "top", "title": "YTHDC1-RIP", "labels": false, "ticks": false, "domain": false, "titleFontSize": 11, "titlePadding": 0}},
       "xOffset": {"field": "grp", "type": "nominal", "sort": null}, "y": {"field": "v", "type": "quantitative"},
       "color": {"field": "grp", "type": "nominal", "legend": {"orient": "none", "legendX": 209, "legendY": -12, "title": null, "labelFontSize": 11, "symbolSize": 22, "symbolOpacity": 1}},
       "shape": {"field": "grp", "type": "nominal", "scale": {"domain": ["Scr", "Ysh1#", "Ysh2#"], "range": ["circle", "square", "circle"]}, "legend": {"orient": "none", "legendX": 209, "legendY": -12, "title": null, "labelFontSize": 11, "symbolSize": 22, "symbolOpacity": 1}}}},
     {"data": {"name": "iBars"}, "mark": {"type": "rule", "strokeWidth": 1.2},
      "encoding": {"x": {"field": "gene", "type": "nominal", "sort": null, "axis": null}, "xOffset": {"field": "grp", "type": "nominal", "sort": null}, "y": {"field": "lo", "type": "quantitative"}, "y2": {"field": "hi"}, "color": {"field": "grp", "type": "nominal"}}},
     {"data": {"name": "iBars"}, "mark": {"type": "tick", "thickness": 1.2, "size": 5},
      "encoding": {"x": {"field": "gene", "type": "nominal", "sort": null, "axis": null}, "xOffset": {"field": "grp", "type": "nominal", "sort": null}, "y": {"field": "hi", "type": "quantitative"}, "color": {"field": "grp", "type": "nominal"}}},
     {"data": {"name": "iBars"}, "mark": {"type": "tick", "thickness": 1.2, "size": 5},
      "encoding": {"x": {"field": "gene", "type": "nominal", "sort": null, "axis": null}, "xOffset": {"field": "grp", "type": "nominal", "sort": null}, "y": {"field": "lo", "type": "quantitative"}, "color": {"field": "grp", "type": "nominal"}}},
     {"data": {"name": "iSig"}, "mark": {"type": "text", "fontSize": 9, "color": "#231f20"},
      "encoding": {"x": {"field": "gene", "type": "nominal", "sort": null, "axis": null}, "xOffset": {"field": "grp", "type": "nominal", "sort": null}, "y": {"field": "y", "type": "quantitative"}, "text": {"field": "s"}}}
    ],
    "resolve": {"axis": {"x": "independent"}}},
   {"width": 104, "height": 95,
    "title": {"text": "J", "offset": -4},
    "layer": [
     {"data": {"name": "jPts"}, "mark": {"type": "point", "filled": true, "size": 26, "opacity": 1},
      "encoding": {"x": {"field": "h", "type": "quantitative", "scale": {"domain": [0, 20]}, "axis": {"orient": "top", "title": "MCM2", "labels": false, "ticks": false, "domain": false, "titleFontSize": 12, "titlePadding": 2}},
       "y": {"field": "v", "type": "quantitative", "scale": {"domain": [-8, 0]}, "axis": {"values": [-8, -6, -4, -2, 0], "title": ["Relative mRNA", "remaining (log2)"], "labelFontSize": 11, "titleFontSize": 11}},
       "color": {"field": "grp", "type": "nominal", "scale": {"domain": ["Scr", "Ysh1#", "Ysh2#"], "range": ["#d2163a", "#1b5aa0", "#3dbb4b"]}, "legend": {"orient": "bottom-left", "offset": 6, "title": null, "labelFontSize": 11, "symbolSize": 26}},
       "shape": {"field": "grp", "type": "nominal", "scale": {"domain": ["Scr", "Ysh1#", "Ysh2#"], "range": ["circle", "square", "triangle-up"]}, "legend": {"orient": "bottom-left", "offset": 6, "title": null, "labelFontSize": 11, "symbolSize": 26}}}},
     {"data": {"name": "jFit"}, "mark": {"type": "line", "strokeWidth": 2},
      "encoding": {
       "x": {"field": "h", "type": "quantitative", "axis": {"values": [0, 5, 10, 15, 20], "title": "Hours", "labelFontSize": 11, "titleFontSize": 12}},
       "y": {"field": "v", "type": "quantitative"},
       "color": {"field": "grp", "type": "nominal"}
      }},
     {"data": {"name": "jPts"}, "mark": {"type": "rule", "strokeWidth": 1.2},
      "encoding": {"x": {"field": "h", "type": "quantitative", "axis": null}, "y": {"field": "lo", "type": "quantitative"}, "y2": {"field": "hi"}, "color": {"field": "grp", "type": "nominal"}}},
     {"data": {"name": "jPts"}, "transform": [{"filter": "datum.hi > datum.lo"}], "mark": {"type": "tick", "orient": "horizontal", "thickness": 1.2, "size": 5},
      "encoding": {"x": {"field": "h", "type": "quantitative", "axis": null}, "y": {"field": "hi", "type": "quantitative"}, "color": {"field": "grp", "type": "nominal"}}},
     {"data": {"name": "jPts"}, "transform": [{"filter": "datum.hi > datum.lo"}], "mark": {"type": "tick", "orient": "horizontal", "thickness": 1.2, "size": 5},
      "encoding": {"x": {"field": "h", "type": "quantitative", "axis": null}, "y": {"field": "lo", "type": "quantitative"}, "color": {"field": "grp", "type": "nominal"}}},
     {"data": {"name": "jSig"}, "mark": {"type": "text", "fontSize": 9, "color": "#231f20"},
      "encoding": {"x": {"field": "h", "type": "quantitative", "axis": null}, "y": {"field": "v", "type": "quantitative"}, "text": {"field": "s"}}}
    ],
    "resolve": {"axis": {"x": "independent"}}},
   {"width": 102, "height": 93,
    "title": {"text": "K", "offset": -4},
    "layer": [
     {"data": {"name": "kPts"}, "mark": {"type": "point", "filled": true, "size": 26, "opacity": 1},
      "encoding": {"x": {"field": "h", "type": "quantitative", "scale": {"domain": [0, 20]}, "axis": {"orient": "top", "title": "MCM4", "labels": false, "ticks": false, "domain": false, "titleFontSize": 12, "titlePadding": 2}},
       "y": {"field": "v", "type": "quantitative", "scale": {"domain": [-8, 0]}, "axis": {"values": [-8, -6, -4, -2, 0], "title": ["Relative mRNA", "remaining (log2)"], "labelFontSize": 11, "titleFontSize": 11}},
       "color": {"field": "grp", "type": "nominal", "scale": {"domain": ["Scr", "Ysh1#", "Ysh2#"], "range": ["#d2163a", "#1b5aa0", "#3dbb4b"]}, "legend": {"orient": "bottom-left", "offset": 6, "title": null, "labelFontSize": 11, "symbolSize": 26}},
       "shape": {"field": "grp", "type": "nominal", "scale": {"domain": ["Scr", "Ysh1#", "Ysh2#"], "range": ["circle", "square", "triangle-up"]}, "legend": {"orient": "bottom-left", "offset": 6, "title": null, "labelFontSize": 11, "symbolSize": 26}}}},
     {"data": {"name": "kFit"}, "mark": {"type": "line", "strokeWidth": 2},
      "encoding": {
       "x": {"field": "h", "type": "quantitative", "axis": {"values": [0, 5, 10, 15, 20], "title": "Hours", "labelFontSize": 11, "titleFontSize": 12}},
       "y": {"field": "v", "type": "quantitative"},
       "color": {"field": "grp", "type": "nominal"}
      }},
     {"data": {"name": "kPts"}, "mark": {"type": "rule", "strokeWidth": 1.2},
      "encoding": {"x": {"field": "h", "type": "quantitative", "axis": null}, "y": {"field": "lo", "type": "quantitative"}, "y2": {"field": "hi"}, "color": {"field": "grp", "type": "nominal"}}},
     {"data": {"name": "kPts"}, "transform": [{"filter": "datum.hi > datum.lo"}], "mark": {"type": "tick", "orient": "horizontal", "thickness": 1.2, "size": 5},
      "encoding": {"x": {"field": "h", "type": "quantitative", "axis": null}, "y": {"field": "hi", "type": "quantitative"}, "color": {"field": "grp", "type": "nominal"}}},
     {"data": {"name": "kPts"}, "transform": [{"filter": "datum.hi > datum.lo"}], "mark": {"type": "tick", "orient": "horizontal", "thickness": 1.2, "size": 5},
      "encoding": {"x": {"field": "h", "type": "quantitative", "axis": null}, "y": {"field": "lo", "type": "quantitative"}, "color": {"field": "grp", "type": "nominal"}}},
     {"data": {"name": "kSig"}, "mark": {"type": "text", "fontSize": 9, "color": "#231f20"},
      "encoding": {"x": {"field": "h", "type": "quantitative", "axis": null}, "y": {"field": "v", "type": "quantitative"}, "text": {"field": "s"}}}
    ],
    "resolve": {"axis": {"x": "independent"}}}
  ], "spacing": 45, "align": "none", "resolve": {"scale": {"color": "independent", "fill": "independent", "shape": "independent"}}}
 ], "spacing": 17, "align": "none", "resolve": {"scale": {"color": "independent", "fill": "independent", "shape": "independent"}}}
]
}
